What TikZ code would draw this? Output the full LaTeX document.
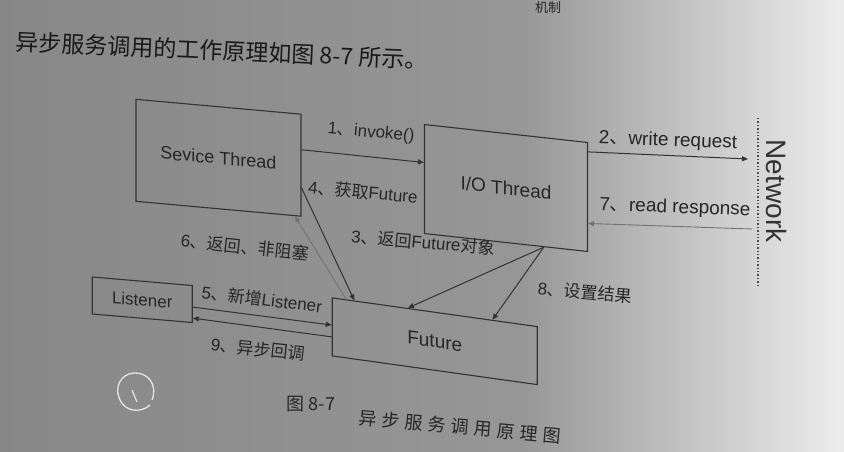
\documentclass[tikz,border=0pt]{standalone}
\usepackage{fontspec}
\setmainfont{Liberation Sans}
\newfontfamily\cjk{Noto Sans CJK SC}
\usetikzlibrary{calc,arrows.meta}
\begin{document}
\begin{tikzpicture}[x=1pt,y=-1pt,
  box/.style={draw=black!80, line width=1.1pt, inner sep=0pt, text=black!85, font=\fontsize{18}{20}\selectfont},
  lbl/.style={font=\fontsize{17}{20}\selectfont, text=black!85, inner sep=0pt},
  arr/.style={draw=black!80, line width=1pt, -{Triangle[length=6pt,width=5pt]}},
  faint/.style={draw=black!55, line width=0.9pt, -{Triangle[length=6pt,width=5pt]}},
  capt/.style={font=\cjk\fontsize{18}{20}\selectfont, text=black!85, inner sep=0pt},
]
\useasboundingbox (0,0) rectangle (844,452);
% paper background (photo shading)
\shade[left color=black!47, right color=black!41] (0,0) rectangle (521,452);
\shade[left color=black!41, right color=black!22] (520,0) rectangle (701,452);
\shade[left color=black!22, right color=black!7] (700,0) rectangle (844,452);

% header text at the very top of the page
\node[capt, font=\cjk\fontsize{13}{14}\selectfont] (top) at (548,8) {机制};

% header line
\node[capt, font=\cjk\fontsize{23}{25}\selectfont, text=black!90, rotate=-2.5, anchor=west] (hdr) at (16,42) {异步服务调用的工作原理如图 8-7 所示。};

% boxes
\node[box, yslant=-0.09, minimum width=165pt, minimum height=102pt] (st) at (218.5,157.75) {Sevice Thread};
\node[box, yslant=-0.11, minimum width=163pt, minimum height=109pt, font=\fontsize{19}{21}\selectfont] (io) at (506,188) {I/O Thread};
\node[box, yslant=-0.14, minimum width=205pt, minimum height=58pt, font=\fontsize{19}{21}\selectfont] (fu) at (434.75,341.25) {Future};
\node[box, yslant=-0.085, minimum width=100pt, minimum height=37pt, font=\fontsize{17}{19}\selectfont] (li) at (142.25,299.75) {Listener};

% network boundary
\coordinate (nettop) at (758,118);
\coordinate (netbot) at (758,285);
\draw[black!70, line width=1.4pt, dotted] (nettop) -- (netbot);
\node[font=\fontsize{28}{30}\selectfont, text=black!80, rotate=-90] (net) at (777,191) {Network};
\coordinate (n2) at (748,159);
\coordinate (n7) at (752,229);

% connectors
\draw[arr] ($(st.north east)!0.35!(st.south east)$) -- ($(io.north west)!0.35!(io.south west)$);
\node[lbl, rotate=-5] (l1) at (371,133) {1\cjk 、\rmfamily invoke()};

\draw[arr] ($(io.north east)!0.09!(io.south east)$) -- (n2);
\node[lbl, rotate=-2, font=\fontsize{19}{21}\selectfont] (l2) at (668,141) {2\cjk 、\rmfamily write request};

\draw[faint] (n7) -- ($(io.north east)!0.74!(io.south east)$);
\node[lbl, rotate=-2, font=\fontsize{19}{21}\selectfont] (l7) at (675,208) {7\cjk 、\rmfamily read response};

\draw[arr] ($(st.north east)!0.72!(st.south east)$) -- ($(fu.north west)!0.11!(fu.north east)$);
\node[lbl, rotate=-5] (l4) at (363,192) {4\cjk 、获取\rmfamily Future};

\draw[faint] ($(fu.north west)!0.07!(fu.north east)$) -- ($(st.south east)!0.04!(st.south west)$);
\node[lbl, rotate=-6] (l6) at (245,247) {6\cjk 、返回、非阻塞};

\coordinate (iob) at ($(io.south west)!0.73!(io.south east)$);
\draw[arr] (iob) -- ($(fu.north west)!0.37!(fu.north east)$);
\node[lbl, rotate=-5] (l3) at (423,242) {3\cjk 、返回\rmfamily Future\cjk 对象};

\draw[arr] (iob) -- ($(fu.north west)!0.78!(fu.north east)$);
\node[lbl, rotate=-5] (l8) at (585,292) {8\cjk 、设置结果};

\draw[arr] ($(li.north east)!0.58!(li.south east)$) -- ($(fu.north west)!0.47!(fu.south west)$);
\node[lbl, rotate=-7] (l5) at (262,299) {5\cjk 、新增\rmfamily Listener};

\draw[arr] ($(fu.north west)!0.67!(fu.south west)$) -- ($(li.north east)!0.87!(li.south east)$);
\node[lbl, rotate=-6] (l9) at (258,349) {9\cjk 、异步回调};

% handwritten mark
\draw[black!10, line width=1.3pt] (152,400) .. controls (158,385) and (148,372) .. (134,373)
  .. controls (120,374) and (114,388) .. (120,400) .. controls (125,411) and (140,414) .. (150,405);
\draw[black!10, line width=1.2pt] (132,390) -- (137,402);

% caption
\node[capt] (fig) at (311,404) {图 8-7};
\node[capt, rotate=-5] (cap) at (460,427) {异\hspace{5pt}步\hspace{5pt}服\hspace{5pt}务\hspace{5pt}调\hspace{5pt}用\hspace{5pt}原\hspace{5pt}理\hspace{5pt}图};
\end{tikzpicture}
\end{document}
